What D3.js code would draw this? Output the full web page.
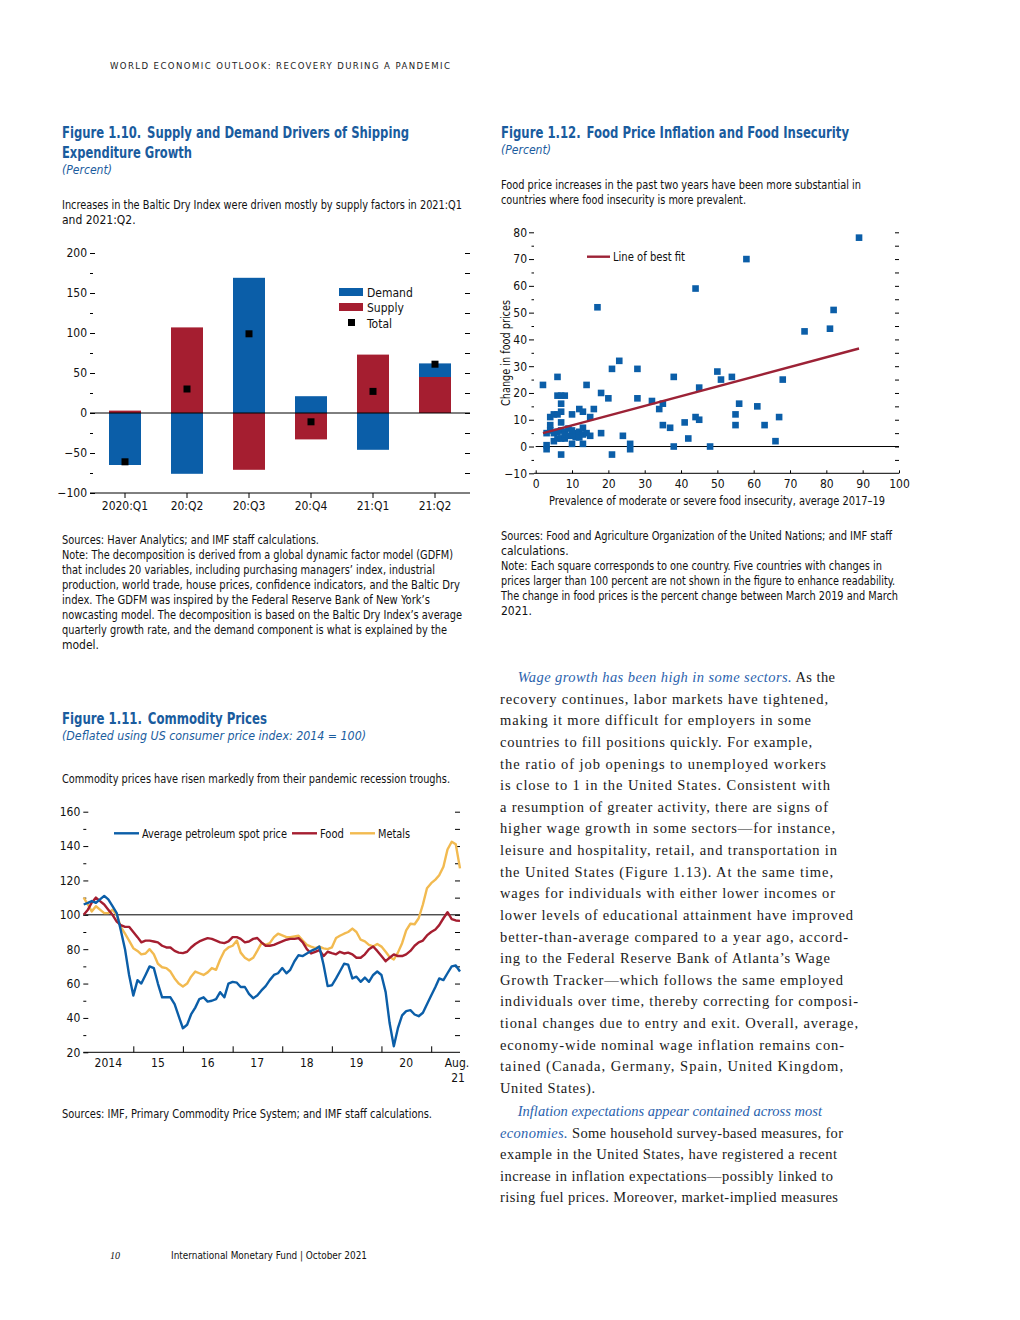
<!DOCTYPE html>
<html>
<head>
<meta charset="utf-8">
<script src="https://cdn.jsdelivr.net/npm/d3@7"></script>
<style>
  body { margin: 0; background: #fff; }
  svg { display: block; }
</style>
</head>
<body>
<svg id="page" width="1020" height="1320"></svg>
<script>
// Figure 1.10 — shipping expenditure growth, percent
var quarters = ['2020:Q1', '20:Q2', '20:Q3', '20:Q4', '21:Q1', '21:Q2'];
var demand = [-65, -76, 169, 21, -46, 17];
var supply = [3, 107, -71, -33, 73, 45];
var total = [-61, 30, 99, -11, 27, 61];

// Figure 1.12 — one square per country
var foodInsecurity = [2, 3, 3, 3, 4, 4, 4, 5, 5, 5, 6, 6, 6, 6, 6, 7, 7, 7, 7, 7, 7, 7, 8, 8, 8, 8,
  9, 9, 10, 10, 10, 10, 11, 11, 12, 12, 12, 13, 13, 13, 13, 14, 14, 15, 15, 16, 17, 18, 18, 20,
  21, 21, 23, 24, 26, 26, 28, 28, 32, 34, 35, 35, 37, 38, 38, 41, 42, 44, 44, 45, 45, 48, 50, 51,
  54, 55, 55, 56, 58, 61, 63, 66, 67, 68, 74, 81, 82, 89];
var foodPriceChange = [23, -1, 0.5, 5, 11, 8, 6, 12, 2, 5, 26, 19, 12, 5.5, 3, 19, 16, 13, 9, -3, 3, 6, 19, 5.5, 3, 4.5,
  6.7, 4, 12, 1, 4, 6, 5, 3.5, 14, 5.5, 3.4, 13, 7, 1, 4.5, 23, 5, 11, 4, 14, 52, 20, 5, 18,
  29, -3, 32, 4, 1, -1, 29, 18, 17, 14, 16, 8, 7, 26, 0, 9, 3, 59, 11, 22, 10, 0, 28, 25,
  26, 12, 8, 16, 70, 15, 8, 2, 11, 25, 43, 44, 51, 78];
var fitX = [2, 89];
var fitY = [5, 36.6];

// Figure 1.11 — monthly, Jan 2014 to Aug 2021, 2014 = 100
var yearLabels = ['2014', '15', '16', '17', '18', '19', '20'];
var petroleum = [106, 107, 108, 107, 109, 111, 109, 105, 101, 91, 80, 65,
  53, 62, 60, 65, 70, 69, 60, 52, 52, 52, 48, 41,
  34, 36, 42, 46, 51, 52, 49.5, 50, 51, 55, 52, 60,
  61, 60.5, 58, 58, 54, 51.5, 53, 56, 58.5, 62, 65, 66,
  69, 66, 68, 73, 76.5, 76, 77.5, 79, 80, 81.5, 71, 58.5,
  59, 63, 67, 71.5, 71, 63, 64, 61, 63.5, 61, 65, 67,
  65, 55, 37, 23.5, 34, 41.5, 44, 44.5, 42, 41, 43, 48,
  53, 58, 63, 62, 66, 70, 70.5, 67];
var food = [100, 103, 107, 110, 108, 106, 103, 100, 96, 94, 93, 93,
  90, 87, 84, 85, 85, 84.5, 84, 82, 81, 81, 79, 78,
  77.7, 78.5, 81, 83, 84.5, 85.5, 86.4, 86, 85, 84, 83.5, 84.5,
  87, 87, 86, 84, 84.5, 86, 86.5, 84, 82, 82, 82.5, 83.5,
  84.5, 85.5, 86, 86, 86.4, 84, 80, 77.5, 78.5, 79.5, 76, 78.5,
  77.7, 77, 78.5, 77.5, 78, 77, 75, 75, 77, 80, 81.6, 79,
  76, 73, 75, 77, 76, 76, 77, 79, 82, 84, 85, 88,
  90, 91.5, 94, 98, 101.5, 97.5, 96.7, 96.5];
var metals = [110, 106, 102, 105, 103, 101, 101, 103, 100, 93, 89, 85,
  80.6, 79, 77, 77.5, 80, 77, 71.5, 69.5, 69, 67, 63, 60,
  58.3, 60, 64, 67, 66, 65, 66.5, 69, 68, 74, 79, 81,
  82, 85, 78, 75, 73.5, 75, 79, 83.5, 82.5, 83.5, 87, 89,
  88, 87, 87, 87.4, 87.8, 85, 82.5, 81.5, 80.6, 81.5, 80.5, 80,
  81, 86.5, 87.8, 89, 90, 92, 90, 85.5, 84.5, 82.5, 81.6, 83,
  81.5, 78.5, 75.5, 74, 78, 83.5, 91, 94.8, 94.5, 98, 106, 115.5,
  118.4, 120.5, 123, 128, 138, 142.5, 141, 127];

(function () {
    var SANS = '"Liberation Sans Narrow", "Arial Narrow", "DejaVu Sans Condensed", "Roboto Condensed", sans-serif';
    var SERIF = '"Liberation Serif", "DejaVu Serif", serif';
    var BLUE = '#0b5ea8', RED = '#a51e30', FIT = '#9c2236', GOLD = '#f2ba50';
    var TITLE = '#1a5c9e', INK = '#111';

    var svg = d3.select('#page');
    svg.append('rect').attr('width', 1020).attr('height', 1320).attr('fill', '#fff');

    function txt(g, x, y, s, o) {
        o = o || {};
        var t = g.append('text').attr('x', x).attr('y', y)
            .attr('font-family', o.family || SANS)
            .attr('font-size', o.size || 12)
            .attr('fill', o.fill || INK)
            .text(s);
        if (o.bold) t.attr('font-weight', 700);
        if (o.italic) t.attr('font-style', 'italic');
        if (o.anchor) t.attr('text-anchor', o.anchor);
        if (o.w) t.attr('textLength', o.w).attr('lengthAdjust', o.adjust || 'spacingAndGlyphs');
        return t;
    }

    function styleAxis(g) {
        g.select('.domain').remove();
        g.attr('font-family', SANS).attr('font-size', 12);
        g.selectAll('line').attr('stroke', '#000');
        g.selectAll('text').attr('fill', INK);
        return g;
    }

    function hline(g, x1, x2, y) {
        g.append('line').attr('x1', x1).attr('x2', x2).attr('y1', y).attr('y2', y)
            .attr('stroke', '#000').attr('stroke-width', 1);
    }

    // running header + footer
    txt(svg, 110, 68.5, 'WORLD ECONOMIC OUTLOOK: RECOVERY DURING A PANDEMIC',
        {size: 9.5, w: 340, adjust: 'spacing', fill: '#222', family: '"DejaVu Sans Condensed", "DejaVu Sans", sans-serif'});
    txt(svg, 110, 1258.5, '10', {family: SERIF, italic: true, size: 10});
    txt(svg, 171, 1258.5, 'International Monetary Fund | October 2021', {size: 10, w: 196});

    // ---------- Figure 1.10 ----------
    var f10 = svg.append('g');
    txt(f10, 62, 137.5, 'Figure 1.10.\u2002Supply and Demand Drivers of Shipping', {size: 15, bold: true, fill: TITLE, w: 347});
    txt(f10, 62, 157.5, 'Expenditure Growth', {size: 15, bold: true, fill: TITLE, w: 130});
    txt(f10, 62, 174, '(Percent)', {italic: true, fill: TITLE, w: 50});
    txt(f10, 62, 209, 'Increases in the Baltic Dry Index were driven mostly by supply factors in 2021:Q1', {w: 400});
    txt(f10, 62, 224, 'and 2021:Q2.');

    var x10 = d3.scaleBand().domain(quarters).range([94, 466]).paddingInner(0.484).paddingOuter(0.242);
    var y10 = d3.scaleLinear().domain([-100, 200]).range([493, 253]);

    var rows = quarters.map(function (q, i) { return {q: q, supply: supply[i], demand: demand[i]}; });
    var stacked = d3.stack().keys(['supply', 'demand']).offset(d3.stackOffsetDiverging)(rows);
    var fills = {supply: RED, demand: BLUE};

    f10.append('g').selectAll('g').data(stacked).join('g')
        .attr('fill', function (s) { return fills[s.key]; })
        .selectAll('rect').data(function (s) { return s; }).join('rect')
        .attr('x', function (d) { return x10(d.data.q); })
        .attr('width', x10.bandwidth())
        .attr('y', function (d) { return y10(d[1]); })
        .attr('height', function (d) { return y10(d[0]) - y10(d[1]); });

    styleAxis(f10.append('g').attr('transform', 'translate(90,0)')
        .call(d3.axisLeft(y10).tickValues(d3.range(-100, 201, 50)).tickSize(-5).tickPadding(3)));
    styleAxis(f10.append('g').attr('transform', 'translate(90,0)')
        .call(d3.axisLeft(y10).tickValues(d3.range(-75, 200, 50)).tickSize(-3).tickFormat('')));
    styleAxis(f10.append('g').attr('transform', 'translate(470,0)')
        .call(d3.axisRight(y10).tickValues(d3.range(-75, 201, 25)).tickSize(-5).tickFormat('')));
    styleAxis(f10.append('g').attr('transform', 'translate(0,493)')
        .call(d3.axisBottom(x10).tickSize(5).tickPadding(3)));
    hline(f10, 90, 470, 493);
    hline(f10, 90, 470, y10(0));

    f10.append('g').selectAll('rect').data(quarters).join('rect')
        .attr('x', function (q) { return x10(q) + x10.bandwidth() / 2 - 3.5; })
        .attr('y', function (q, i) { return y10(total[i]) - 3.5; })
        .attr('width', 7).attr('height', 7).attr('fill', '#000');

    // legend
    f10.append('rect').attr('x', 339).attr('y', 288).attr('width', 24).attr('height', 8).attr('fill', BLUE);
    f10.append('rect').attr('x', 339).attr('y', 303).attr('width', 24).attr('height', 8).attr('fill', RED);
    f10.append('rect').attr('x', 348).attr('y', 319).attr('width', 7).attr('height', 7).attr('fill', '#000');
    txt(f10, 367, 297, 'Demand');
    txt(f10, 367, 312, 'Supply');
    txt(f10, 367, 327.5, 'Total');

    var notes10 = [
        ['Sources: Haver Analytics; and IMF staff calculations.', 257],
        ['Note: The decomposition is derived from a global dynamic factor model (GDFM)', 391],
        ['that includes 20 variables, including purchasing managers\u2019 index, industrial', 373],
        ['production, world trade, house prices, confidence indicators, and the Baltic Dry', 398],
        ['index. The GDFM was inspired by the Federal Reserve Bank of New York\u2019s', 368],
        ['nowcasting model. The decomposition is based on the Baltic Dry Index\u2019s average', 400],
        ['quarterly growth rate, and the demand component is what is explained by the', 385],
        ['model.', 0]
    ];
    notes10.forEach(function (n, i) { txt(f10, 62, 544 + 15 * i, n[0], {w: n[1]}); });

    // ---------- Figure 1.12 ----------
    var f12 = svg.append('g');
    txt(f12, 501, 137.5, 'Figure 1.12.\u2002Food Price Inflation and Food Insecurity', {size: 15, bold: true, fill: TITLE, w: 348});
    txt(f12, 501, 154, '(Percent)', {italic: true, fill: TITLE, w: 50});
    txt(f12, 501, 189, 'Food price increases in the past two years have been more substantial in', {w: 360});
    txt(f12, 501, 204, 'countries where food insecurity is more prevalent.', {w: 245});

    var xs = d3.scaleLinear().domain([0, 100]).range([535.7, 899]);
    var ys = d3.scaleLinear().domain([-10, 80]).range([473.3, 232.3]);

    styleAxis(f12.append('g').attr('transform', 'translate(534,0)')
        .call(d3.axisLeft(ys).tickValues(d3.range(-10, 81, 10)).tickSize(5).tickPadding(2)));
    styleAxis(f12.append('g').attr('transform', 'translate(534,0)')
        .call(d3.axisLeft(ys).tickValues(d3.range(-5, 80, 10)).tickSize(2.5).tickFormat('')));
    styleAxis(f12.append('g').attr('transform', 'translate(899,0)')
        .call(d3.axisRight(ys).tickValues(d3.range(-5, 81, 5)).tickSize(-4).tickFormat('')));
    styleAxis(f12.append('g').attr('transform', 'translate(0,473.3)')
        .call(d3.axisBottom(xs).tickValues(d3.range(0, 101, 10)).tickSize(-3).tickPadding(6)));
    hline(f12, 534, 899, 473.3);
    hline(f12, 535.7, 899, ys(0));

    f12.append('g').selectAll('rect').data(foodInsecurity).join('rect')
        .attr('x', function (v) { return xs(v) - 3.3; })
        .attr('y', function (v, i) { return ys(foodPriceChange[i]) - 3.3; })
        .attr('width', 6.6).attr('height', 6.6).attr('fill', BLUE);

    f12.append('path')
        .datum(fitX.map(function (v, i) { return [v, fitY[i]]; }))
        .attr('d', d3.line().x(function (d) { return xs(d[0]); }).y(function (d) { return ys(d[1]); }))
        .attr('fill', 'none').attr('stroke', FIT).attr('stroke-width', 2.4);

    f12.append('line').attr('x1', 587).attr('x2', 610).attr('y1', 256.7).attr('y2', 256.7)
        .attr('stroke', FIT).attr('stroke-width', 2.4);
    txt(f12, 613, 261, 'Line of best fit', {w: 72});

    txt(f12, 0, 0, 'Change in food prices', {anchor: 'middle', w: 106})
        .attr('transform', 'translate(510,353) rotate(-90)');
    txt(f12, 717, 505, 'Prevalence of moderate or severe food insecurity, average 2017\u201319', {anchor: 'middle', w: 336});

    var notes12 = [
        ['Sources: Food and Agriculture Organization of the United Nations; and IMF staff', 391],
        ['calculations.', 0],
        ['Note: Each square corresponds to one country. Five countries with changes in', 381],
        ['prices larger than 100 percent are not shown in the figure to enhance readability.', 394],
        ['The change in food prices is the percent change between March 2019 and March', 397],
        ['2021.', 0]
    ];
    notes12.forEach(function (n, i) { txt(f12, 501, 540 + 15 * i, n[0], {w: n[1]}); });

    // ---------- Figure 1.11 ----------
    var f11 = svg.append('g');
    txt(f11, 62, 723.5, 'Figure 1.11.\u2002Commodity Prices', {size: 15, bold: true, fill: TITLE, w: 205});
    txt(f11, 62, 740, '(Deflated using US consumer price index: 2014 = 100)', {italic: true, fill: TITLE, w: 304});
    txt(f11, 62, 783, 'Commodity prices have risen markedly from their pandemic recession troughs.', {w: 388});

    var months = d3.timeMonth.range(new Date(2014, 0, 1), new Date(2021, 8, 1));
    var xt = d3.scaleTime().domain([months[0], months[months.length - 1]]).range([83.7, 460]);
    var yt = d3.scaleLinear().domain([20, 160]).range([1052.3, 811.7]);

    styleAxis(f11.append('g').attr('transform', 'translate(83.3,0)')
        .call(d3.axisLeft(yt).tickValues(d3.range(20, 161, 20)).tickSize(-5).tickPadding(3)));
    styleAxis(f11.append('g').attr('transform', 'translate(83.3,0)')
        .call(d3.axisLeft(yt).tickValues(d3.range(30, 160, 20)).tickSize(-3).tickFormat('')));
    styleAxis(f11.append('g').attr('transform', 'translate(460,0)')
        .call(d3.axisRight(yt).tickValues(d3.range(30, 161, 10)).tickSize(-5).tickFormat('')));
    styleAxis(f11.append('g').attr('transform', 'translate(0,1052.3)')
        .call(d3.axisBottom(xt).tickValues(d3.range(2015, 2022).map(function (y) { return new Date(y, 0, 1); }))
            .tickSize(-6).tickFormat('')));
    hline(f11, 83.3, 460, 1052.3);
    hline(f11, 83.3, 460, yt(100));

    yearLabels.forEach(function (lab, i) {
        txt(f11, xt(new Date(2014 + i, 6, 1)), 1066.7, lab, {anchor: 'middle'});
    });
    txt(f11, 457, 1066.7, 'Aug.', {anchor: 'middle'});
    txt(f11, 458, 1081.5, '21', {anchor: 'middle'});

    var line = d3.line()
        .x(function (v, i) { return xt(months[i]); })
        .y(function (v) { return yt(v); });
    [[metals, GOLD], [food, RED], [petroleum, BLUE]].forEach(function (s) {
        f11.append('path').datum(s[0]).attr('d', line)
            .attr('fill', 'none').attr('stroke', s[1]).attr('stroke-width', 2.4)
            .attr('stroke-linejoin', 'round');
    });

    // legend
    [[114, 'Average petroleum spot price', BLUE, 145], [292, 'Food', RED, 24], [350, 'Metals', GOLD, 32]].forEach(function (l) {
        f11.append('line').attr('x1', l[0]).attr('x2', l[0] + 25).attr('y1', 833.3).attr('y2', 833.3)
            .attr('stroke', l[2]).attr('stroke-width', 2.4);
        txt(f11, l[0] + 28, 837.5, l[1], {w: l[3]});
    });

    txt(f11, 62, 1118, 'Sources: IMF, Primary Commodity Price System; and IMF staff calculations.', {w: 370});

    // ---------- body text, right column ----------
    var body = [
        [[1, 'Wage growth has been high in some sectors.'], [0, ' As the']],
        [[0, 'recovery continues, labor markets have tightened,']],
        [[0, 'making it more difficult for employers in some']],
        [[0, 'countries to fill positions quickly. For example,']],
        [[0, 'the ratio of job openings to unemployed workers']],
        [[0, 'is close to 1 in the United States. Consistent with']],
        [[0, 'a resumption of greater activity, there are signs of']],
        [[0, 'higher wage growth in some sectors\u2014for instance,']],
        [[0, 'leisure and hospitality, retail, and transportation in']],
        [[0, 'the United States (Figure 1.13). At the same time,']],
        [[0, 'wages for individuals with either lower incomes or']],
        [[0, 'lower levels of educational attainment have improved']],
        [[0, 'better-than-average compared to a year ago, accord-']],
        [[0, 'ing to the Federal Reserve Bank of Atlanta\u2019s Wage']],
        [[0, 'Growth Tracker\u2014which follows the same employed']],
        [[0, 'individuals over time, thereby correcting for composi-']],
        [[0, 'tional changes due to entry and exit. Overall, average,']],
        [[0, 'economy-wide nominal wage inflation remains con-']],
        [[0, 'tained (Canada, Germany, Spain, United Kingdom,']],
        [[0, 'United States).']],
        [[1, 'Inflation expectations appear contained across most']],
        [[1, 'economies.'], [0, ' Some household survey-based measures, for']],
        [[0, 'example in the United States, have registered a recent']],
        [[0, 'increase in inflation expectations\u2014possibly linked to']],
        [[0, 'rising fuel prices. Moreover, market-implied measures']]
    ];
    var lineEnd = [835, 828, 811, 812, 826, 830, 828, 835, 837, 833, 835, 853, 848, 830, 843,
        858, 858, 844, 843, 595, 822, 843, 837, 833, 838];

    body.forEach(function (segs, i) {
        var x0 = (i === 0 || i === 20) ? 517.7 : 500;
        var y = i < 20 ? 682 + 21.63 * i : 1116 + 21.5 * (i - 20);
        var t = svg.append('text').attr('x', x0).attr('y', y)
            .attr('font-family', SERIF).attr('font-size', 14.5).attr('fill', '#1a1a1a')
            .attr('textLength', lineEnd[i] - x0).attr('lengthAdjust', 'spacing');
        segs.forEach(function (s) {
            var ts = t.append('tspan').text(s[1]);
            if (s[0]) ts.attr('font-style', 'italic').attr('fill', '#2a62ad');
        });
    });
})();
</script>
</body>
</html>
